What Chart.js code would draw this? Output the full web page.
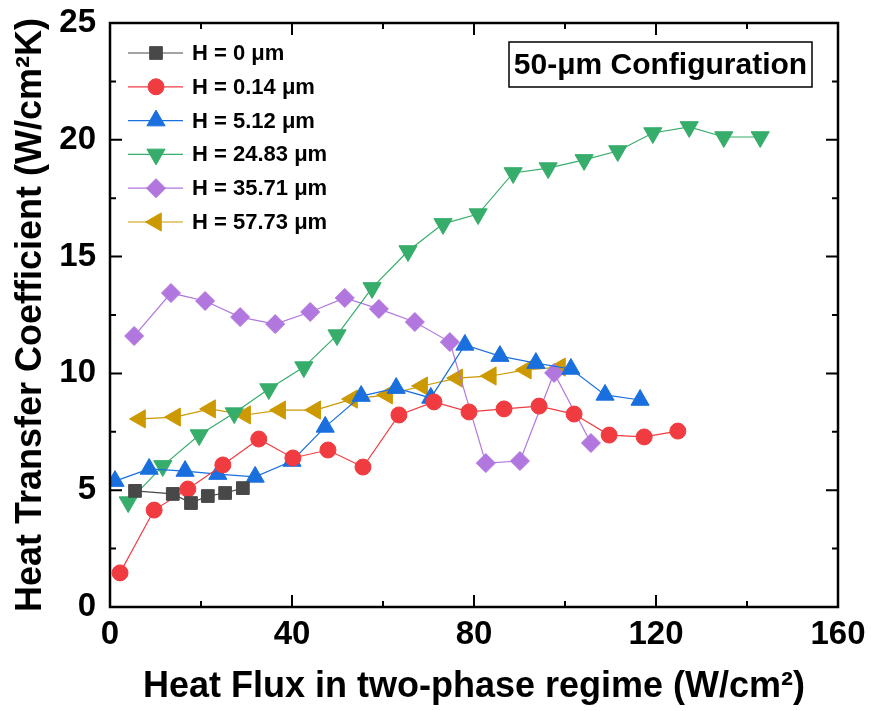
<!DOCTYPE html>
<html>
<head>
<meta charset="utf-8">
<script src="https://cdn.jsdelivr.net/npm/chart.js@4.4.0/dist/chart.umd.min.js"></script>
<style>
html, body { margin: 0; padding: 0; background: #fff; }
#wrap { width: 871px; height: 711px; }
</style>
</head>
<body>
<div id="wrap"><canvas id="myChart" width="871" height="711"></canvas></div>
<script>
// valores
var x_h0 = [5.5, 13.8, 17.8, 21.5, 25.3, 29.2];
var y_h0 = [4.97, 4.84, 4.45, 4.75, 4.88, 5.09];

var x_h014 = [2.2, 9.7, 17.1, 24.8, 32.7, 40.2, 47.9, 55.6, 63.5, 71.2, 78.9, 86.6, 94.3, 102.0, 109.7, 117.4, 124.8];
var y_h014 = [1.46, 4.15, 5.05, 6.08, 7.19, 6.38, 6.72, 5.99, 8.22, 8.78, 8.35, 8.48, 8.60, 8.26, 7.36, 7.28, 7.53];

var x_h512 = [1.1, 8.6, 16.5, 23.7, 31.9, 40.0, 47.3, 55.2, 62.9, 70.5, 78.0, 85.7, 93.6, 101.3, 108.8, 116.5];
var y_h512 = [5.39, 5.91, 5.82, 5.69, 5.57, 6.25, 7.71, 9.03, 9.37, 8.95, 11.22, 10.74, 10.44, 10.19, 9.08, 8.86];

var x_h2483 = [4.0, 11.6, 19.6, 27.3, 34.9, 42.6, 49.9, 57.6, 65.5, 73.2, 80.9, 88.6, 96.3, 104.2, 111.6, 119.3, 127.3, 134.9, 142.9];
var y_h2483 = [4.49, 6.04, 7.36, 8.30, 9.33, 10.27, 11.64, 13.66, 15.24, 16.40, 16.82, 18.58, 18.79, 19.14, 19.52, 20.29, 20.55, 20.12, 20.12];

var x_h3571 = [5.3, 13.4, 20.9, 28.6, 36.3, 44.0, 51.6, 59.1, 67.0, 74.7, 82.6, 90.1, 97.6, 105.7];
var y_h3571 = [11.60, 13.44, 13.10, 12.41, 12.11, 12.63, 13.23, 12.76, 12.20, 11.34, 6.16, 6.25, 10.02, 7.02];

var x_h5773 = [6.6, 14.3, 22.0, 29.7, 37.4, 45.1, 53.2, 60.9, 68.6, 76.3, 83.7, 91.4, 98.9];
var y_h5773 = [8.05, 8.13, 8.48, 8.22, 8.43, 8.43, 8.90, 9.08, 9.46, 9.80, 9.89, 10.15, 10.27];

var legendas = ['H = 0 \u03bcm', 'H = 0.14 \u03bcm', 'H = 5.12 \u03bcm', 'H = 24.83 \u03bcm', 'H = 35.71 \u03bcm', 'H = 57.73 \u03bcm'];
var titulo_x = 'Heat Flux in two-phase regime (W/cm\u00b2)';
var titulo_y = 'Heat Transfer Coefficient (W/cm\u00b2K)';
var caixa_texto = '50-\u03bcm Configuration';

var fonte = "'Liberation Sans', Arial, sans-serif";

function pares(xs, ys) {
    return xs.map(function (x, i) { return { x: x, y: ys[i] }; });
}

function serie(label, xs, ys, cor, estilo, raio, rot) {
    return {
        label: label,
        data: pares(xs, ys),
        borderColor: cor,
        backgroundColor: cor,
        borderWidth: 1.2,
        pointStyle: estilo,
        pointRadius: raio,
        pointRotation: rot || 0,
        pointBorderWidth: 1,
        pointBackgroundColor: cor,
        pointBorderColor: cor
    };
}

var datasets = [
    serie(legendas[0], x_h0, y_h0, '#484848', 'rect', 9),
    serie(legendas[1], x_h014, y_h014, '#f03c40', 'circle', 8),
    serie(legendas[2], x_h512, y_h512, '#1a6fdf', 'triangle', 10.5),
    serie(legendas[3], x_h2483, y_h2483, '#37ad6b', 'triangle', 10.5, 180),
    serie(legendas[4], x_h3571, y_h3571, '#b177de', 'rectRot', 9.5),
    serie(legendas[5], x_h5773, y_h5773, '#cc9900', 'triangle', 10.5, -90)
];

// moldura com ticks para dentro, legenda e caixa de texto
var moldura = {
    id: 'moldura',
    afterDraw: function (chart) {
        var ctx = chart.ctx;
        var a = chart.chartArea;
        var sx = chart.scales.x;
        var sy = chart.scales.y;
        ctx.save();
        ctx.strokeStyle = '#000';
        ctx.lineWidth = 2;
        ctx.beginPath();
        for (var v = 0; v <= 160; v += 20) {
            var p = sx.getPixelForValue(v);
            var len = (v % 40 === 0) ? 12 : 6;
            ctx.moveTo(p, a.bottom); ctx.lineTo(p, a.bottom - len);
            ctx.moveTo(p, a.top); ctx.lineTo(p, a.top + len);
        }
        for (var w = 0; w <= 25; w += 2.5) {
            var q = sy.getPixelForValue(w);
            var len2 = (w % 5 === 0) ? 12 : 6;
            ctx.moveTo(a.left, q); ctx.lineTo(a.left + len2, q);
            ctx.moveTo(a.right, q); ctx.lineTo(a.right - len2, q);
        }
        ctx.stroke();
        ctx.lineWidth = 2.5;
        ctx.strokeRect(a.left, a.top, a.right - a.left, a.bottom - a.top);

        // legenda
        chart.data.datasets.forEach(function (ds, i) {
            var ly = a.top + 30 + i * 33.8;
            ctx.strokeStyle = ds.borderColor;
            ctx.lineWidth = 1.2;
            ctx.beginPath();
            ctx.moveTo(a.left + 18, ly);
            ctx.lineTo(a.left + 73, ly);
            ctx.stroke();
            ctx.fillStyle = ds.backgroundColor;
            ctx.strokeStyle = ds.borderColor;
            ctx.lineWidth = 1;
            Chart.helpers.drawPoint(ctx, {
                pointStyle: ds.pointStyle,
                rotation: ds.pointRotation,
                radius: ds.pointRadius,
                borderWidth: 1
            }, a.left + 46, ly);
            ctx.fillStyle = '#000';
            ctx.font = 'bold 22px ' + fonte;
            ctx.textAlign = 'left';
            ctx.textBaseline = 'middle';
            ctx.fillText(ds.label, a.left + 82, ly + 1);
        });

        // caixa "50-um Configuration"
        var bx = a.right - 329, by = a.top + 19, bw = 303, bh = 45;
        ctx.strokeStyle = '#000';
        ctx.lineWidth = 1.5;
        ctx.strokeRect(bx, by, bw, bh);
        ctx.fillStyle = '#000';
        ctx.font = 'bold 30px ' + fonte;
        ctx.textAlign = 'center';
        ctx.textBaseline = 'middle';
        ctx.fillText(caixa_texto, bx + bw / 2, by + bh / 2 + 1);
        ctx.restore();
    }
};

var ctx = document.getElementById('myChart').getContext('2d');
var grafico = new Chart(ctx, {
    type: 'line',
    data: { datasets: datasets },
    options: {
        responsive: false,
        animation: false,
        layout: { padding: { top: 23, right: 33, left: 0, bottom: 0 } },
        plugins: {
            legend: { display: false },
            tooltip: { enabled: false }
        },
        scales: {
            x: {
                type: 'linear',
                min: 0,
                max: 160,
                afterFit: function (s) { s.height = 104; s.paddingLeft = 0; s.paddingRight = 0; },
                grid: { display: false, drawTicks: false },
                border: { display: false },
                ticks: {
                    stepSize: 40,
                    padding: 8,
                    color: '#000',
                    font: { family: fonte, size: 33, weight: 'bold' }
                },
                title: {
                    display: true,
                    text: titulo_x,
                    color: '#000',
                    padding: { top: 0, bottom: 2 },
                    font: { family: fonte, size: 36, weight: 'bold' }
                }
            },
            y: {
                type: 'linear',
                min: 0,
                max: 25,
                afterFit: function (s) { s.width = 110; s.paddingTop = 0; s.paddingBottom = 0; },
                grid: { display: false, drawTicks: false },
                border: { display: false },
                ticks: {
                    stepSize: 5,
                    padding: 14,
                    color: '#000',
                    font: { family: fonte, size: 33, weight: 'bold' }
                },
                title: {
                    display: true,
                    text: titulo_y,
                    color: '#000',
                    padding: { top: 9, bottom: 0 },
                    font: { family: fonte, size: 36, weight: 'bold' }
                }
            }
        }
    },
    plugins: [moldura]
});
</script>
</body>
</html>
